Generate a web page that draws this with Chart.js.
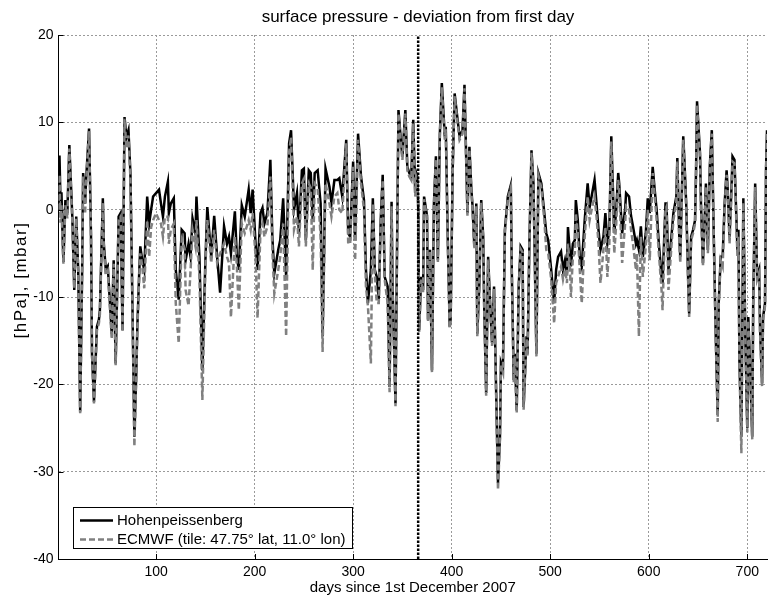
<!DOCTYPE html>
<html lang="en">
<head>
    <meta charset="UTF-8">
    <title>Surface pressure - deviation from first day</title>
    <script src="https://cdn.jsdelivr.net/npm/chart.js"></script>
    <style>
        body {
            margin: 0;
            background: #fff;
        }
        #chart {
            display: block;
        }
    </style>
</head>
<body>
    <canvas id="chart" width="768" height="599"></canvas>

    <script>
        // day index (1 = 1st December 2007)
        const days = [
            1, 2, 3, 4, 5, 6, 8, 10, 12, 15,
            17, 19, 21, 23, 25, 26, 28, 29, 32, 34,
            35, 37, 40, 42, 43, 46, 47, 49, 51, 52,
            55, 57, 59, 61, 62, 64, 66, 68, 70, 72,
            74, 76, 78, 80, 81, 83, 84, 86, 88, 91,
            93, 95, 97, 100, 103, 105, 107, 109, 112, 113,
            115, 118, 120, 123, 126, 129, 130, 133, 135, 137,
            140, 141, 144, 147, 150, 152, 156, 159, 162, 165,
            169, 172, 174, 176, 180, 182, 184, 187, 190, 194,
            196, 198, 201, 203, 206, 208, 210, 213, 216, 218,
            220, 224, 226, 229, 232, 235, 237, 240, 243, 245,
            248, 250, 252, 255, 257, 259, 261, 264, 267, 269,
            272, 276, 278, 281, 284, 286, 289, 293, 295, 297,
            300, 302, 305, 308, 311, 313, 315, 318, 320, 322,
            324, 326, 328, 330, 332, 335, 337, 339, 340, 343,
            344, 346, 349, 350, 353, 355, 357, 359, 361, 363,
            364, 365, 366, 367, 369, 371, 372, 375, 376, 378,
            380, 382, 384, 386, 388, 390, 393, 394, 396, 398,
            399, 401, 403, 406, 408, 411, 413, 415, 416, 418,
            420, 421, 423, 425, 426, 428, 430, 432, 433, 435,
            437, 439, 441, 443, 444, 447, 449, 450, 452, 454,
            457, 460, 461, 463, 464, 466, 468, 470, 472, 473,
            476, 477, 479, 481, 483, 486, 488, 491, 494, 496,
            498, 501, 504, 506, 508, 511, 513, 515, 517, 518,
            520, 521, 523, 525, 526, 528, 530, 532, 535, 538,
            540, 542, 545, 547, 549, 551, 554, 556, 558, 560,
            562, 565, 567, 569, 570, 573, 576, 577, 580, 582,
            584, 587, 588, 590, 592, 594, 597, 599, 601, 604,
            606, 608, 610, 613, 614, 617, 618, 620, 623, 625,
            628, 629, 631, 632, 635, 636, 638, 640, 641, 643,
            645, 647, 648, 649, 652, 653, 655, 657, 658, 660,
            662, 664, 666, 668, 670, 671, 673, 675, 677, 679,
            680, 682, 684, 685, 687, 690, 691, 692, 694, 696,
            698, 700, 701, 703, 705, 706, 708, 710, 712, 713,
            715, 716, 718, 719, 720
        ];

        // station record, hPa relative to day 1
        const hohen = [
            0, 6.2, 1.0, 2.0, -2.5, -6.0, 1.1, -0.4, 7.4, -0.8,
            -9.2, -0.8, -6.9, -23.1, -6.9, 4.2, 0.7, 3.4, 9.3, -3.1,
            -16.5, -22.0, -13.4, -12.6, -11.5, 1.3, -3.9, -6.9, -6.5, -8.4,
            -14.2, -5.8, -17.6, -6.9, -0.8, -0.4, -13.8, 10.6, 8.3, 9.1,
            4.2, -10.7, -26.0, -18.4, -13.4, -6.9, -4.2, -5.8, -6.9, 1.5,
            -1.6, 0.0, 1.5, 1.9, 2.3, 0.7, -0.8, 1.5, 3.2, -0.4,
            0.7, 1.3, -6.9, -10.3, -2.3, -2.7, -5.8, -3.9, -5.4, -1.0,
            -2.7, 1.5, -5.4, -18.4, -6.1, 0.3, -5.4, -0.7, -5.4, -9.5,
            -1.9, -3.9, -3.1, -5.0, -0.2, -5.4, -6.9, 0.5, -0.8, 2.3,
            -0.4, 2.3, -3.9, -6.9, -0.4, 0.2, -1.6, -0.4, 5.7, -3.1,
            -7.3, -4.6, -3.5, 1.3, -7.7, 7.6, 9.1, 0.0, 1.9, -2.7,
            4.5, 4.7, -3.5, 4.5, 4.2, -1.2, 4.2, 4.5, 0.7, -14.5,
            4.7, 2.6, 0.7, 3.4, 3.4, 3.6, 1.5, 8.0, -2.7, -3.1,
            5.5, -3.5, 8.7, 3.8, 1.1, -6.9, -10.7, -6.9, 1.3, -6.9,
            -7.7, -10.3, -1.2, 4.0, -7.7, -8.8, -20.3, 0.9, -8.8, -22.2,
            -10.7, 11.4, 7.2, 6.1, 11.4, 4.9, 4.2, 3.8, 10.3, 1.9,
            4.2, 3.8, 0.7, -13.8, -7.7, -9.2, 1.5, -0.7, -12.6, -4.6,
            -18.4, 0.7, 6.1, -5.8, 8.7, 14.5, 8.4, 9.5, -3.1, -13.4,
            -12.3, 4.5, 13.3, 10.3, 8.4, 9.1, 14.3, 4.5, -0.4, 7.2,
            2.3, 0.7, -4.2, 0.7, -14.2, -8.8, 1.1, -3.1, -11.0, -21.0,
            -5.4, -10.7, -15.3, -8.8, -14.5, -31.3, -26.0, -17.6, -18.4, -2.3,
            1.5, 2.8, -6.9, -19.5, -16.5, -23.0, -8.8, -4.2, -4.6, -22.6,
            -14.5, -16.5, -3.1, 6.8, 3.0, -16.5, 4.2, 3.0, -0.4, -2.7,
            -3.5, -6.9, -10.7, -6.9, -5.4, -4.8, -6.9, -5.8, -7.3, -2.0,
            -5.0, -6.5, -3.9, -3.5, 1.1, -1.2, -5.4, -6.5, -1.2, 3.0,
            0.3, 1.5, 3.4, 0.7, -2.3, -4.6, -3.1, -0.4, -3.9, -2.3,
            8.4, -2.7, 0.0, 4.2, 3.0, -2.7, 0.0, 1.9, 1.5, -0.7,
            -1.9, -3.9, -3.5, -4.6, -1.9, -5.4, -2.7, 1.3, -0.4, 4.9,
            2.3, 0.0, -3.5, -7.7, -8.4, 0.7, 0.7, -6.9, -3.1, -0.4,
            1.5, 5.9, -3.1, -5.4, 8.4, 6.1, 0.7, -8.0, -11.9, -3.1,
            -2.3, -1.2, 4.5, 12.4, 6.5, 0.7, -6.1, -0.4, 3.0, -4.6,
            5.1, 9.1, -3.1, -14.5, -23.5, -10.7, -5.4, -5.4, 0.7, 4.5,
            2.6, -3.1, 2.6, 6.1, 5.7, -4.6, -2.3, -17.2, -26.0, 1.3,
            -14.5, -25.0, -12.3, -18.4, -26.0, -10.7, 3.0, -7.7, -6.9, -13.8,
            -19.9, -12.3, -10.7, 4.5, 9.1
        ];

        // model grid cell, hPa relative to day 1
        const ecmwf = [
            0, 4.0, -1.5, 0.5, -3.5, -6.2, 0.5, -1.0, 7.0, -1.2,
            -9.0, -1.0, -7.0, -23.3, -7.2, 3.8, -0.5, 3.0, 9.0, -3.3,
            -16.5, -22.2, -13.8, -13.0, -12.0, 0.8, -4.5, -7.5, -7.0, -9.0,
            -14.8, -6.2, -17.8, -7.0, -1.2, -0.8, -14.0, 10.4, 7.0, 8.5,
            3.5, -11.0, -27.1, -18.8, -13.8, -7.5, -5.0, -6.5, -9.0, -1.2,
            -5.4, -2.0, -1.2, -0.4, -1.2, -1.6, -3.1, -0.8, -0.8, -3.9,
            -2.3, -1.6, -10.7, -15.3, -3.4, -4.5, -9.2, -11.0, -7.0, -2.3,
            -4.2, -1.2, -7.7, -21.8, -6.9, -1.2, -6.1, -2.3, -6.1, -5.0,
            -3.9, -5.4, -6.1, -12.3, -3.1, -6.5, -11.5, -1.6, -2.7, -1.2,
            -2.3, -0.4, -5.4, -12.4, -2.3, -1.6, -3.1, -1.9, 3.8, -4.6,
            -9.6, -6.9, -5.4, -1.6, -14.5, 6.5, 8.3, -2.3, -0.8, -4.2,
            3.0, 3.5, -4.2, 3.0, 2.5, -6.9, 3.0, 2.5, -3.1, -16.3,
            3.0, 0.7, -0.8, 1.5, 1.9, 0.0, -0.4, 7.6, -3.9, -3.9,
            4.9, -5.8, 8.0, 3.0, 0.0, -8.8, -11.0, -17.6, 0.7, -7.3,
            -10.7, -10.7, -1.6, 3.4, -8.0, -10.7, -20.9, 0.4, -9.2, -22.5,
            -11.0, 11.0, 6.8, 5.7, 11.0, 4.5, 3.8, 3.4, 9.9, 1.5,
            3.8, 3.4, 0.3, -14.0, -8.0, -9.5, 1.2, -1.0, -12.8, -4.8,
            -18.6, 0.3, 5.8, -6.0, 8.4, 14.0, 8.0, 9.2, -3.4, -13.6,
            -12.5, 4.2, 13.0, 9.9, 8.0, 8.7, 13.9, 4.2, -0.7, 6.9,
            2.0, 0.4, -4.5, 0.4, -14.5, -9.0, 0.8, -3.4, -11.2, -21.3,
            -5.7, -11.0, -15.6, -9.1, -14.8, -32.1, -26.3, -17.8, -18.6, -2.6,
            1.2, 2.5, -7.2, -19.8, -16.8, -23.3, -9.1, -4.5, -4.9, -22.9,
            -14.8, -16.8, -3.4, 6.5, 2.7, -16.8, 3.9, 2.5, -1.2, -4.6,
            -5.0, -8.0, -13.0, -8.4, -7.7, -6.5, -8.0, -6.9, -8.4, -3.9,
            -6.5, -10.0, -5.4, -5.0, -0.4, -2.7, -6.9, -10.7, -3.1, 1.5,
            -1.2, 0.0, 1.5, -0.8, -3.9, -8.4, -4.6, -2.0, -7.7, -3.9,
            7.8, -5.0, -1.6, 3.4, 2.3, -6.1, -1.6, 0.4, 0.0, -2.3,
            -3.9, -6.9, -5.0, -14.5, -3.1, -7.7, -4.2, 0.0, -5.8, 4.2,
            1.6, -1.2, -4.6, -9.2, -11.5, 0.0, 0.3, -9.2, -4.2, -1.2,
            0.8, 5.5, -3.9, -6.1, 8.0, 5.7, 0.3, -8.4, -12.3, -3.5,
            -2.7, -1.6, 4.0, 12.0, 6.1, 0.3, -6.5, -0.8, 2.6, -5.0,
            4.7, 8.7, -3.5, -14.8, -24.3, -11.0, -5.8, -6.5, 0.3, 4.0,
            2.2, -3.9, 2.0, 5.5, 5.3, -5.4, -3.1, -17.6, -27.9, 0.8,
            -15.0, -25.5, -12.7, -18.8, -26.3, -11.0, 2.6, -8.0, -7.3, -14.2,
            -20.2, -12.7, -11.0, 4.2, 8.8
        ];

        const xTicks = [100, 200, 300, 400, 500, 600, 700];
        const yTicks = [-40, -30, -20, -10, 0, 10, 20];
        const yearBreak = 366;   // 1st December 2008
        const seriesNames = ['Hohenpeissenberg', 'ECMWF (tile: 47.75\u00b0 lat, 11.0\u00b0 lon)'];

        const FONT = "'Liberation Sans', Arial, Helvetica, sans-serif";
        Chart.defaults.font.family = FONT;
        Chart.defaults.color = '#000';

        function toPoints(values) {
            return days.map((d, i) => ({ x: d, y: values[i] }));
        }

        // title, y label, inward tick marks and the boxed legend
        const decorations = {
            id: 'decorations',
            afterDraw(chart) {
                const ctx = chart.ctx;
                const { left, bottom } = chart.chartArea;
                const xs = chart.scales.x, ys = chart.scales.y;
                ctx.save();

                ctx.strokeStyle = '#000';
                ctx.lineWidth = 1;
                ctx.beginPath();
                xTicks.forEach(v => {
                    const px = Math.round(xs.getPixelForValue(v)) + 0.5;
                    ctx.moveTo(px, bottom);
                    ctx.lineTo(px, bottom - 5);
                });
                yTicks.forEach(v => {
                    const py = Math.round(ys.getPixelForValue(v)) + 0.5;
                    ctx.moveTo(left, py);
                    ctx.lineTo(left + 5, py);
                });
                ctx.stroke();

                ctx.fillStyle = '#000';
                ctx.font = '17px ' + FONT;
                ctx.textAlign = 'center';
                ctx.textBaseline = 'alphabetic';
                ctx.fillText('surface pressure - deviation from first day', 418, 22);

                // rotated unit label
                ctx.save();
                ctx.translate(21, 280);
                ctx.rotate(-Math.PI / 2);
                ctx.font = '17px ' + FONT;
                ctx.textBaseline = 'middle';
                if ('letterSpacing' in ctx) ctx.letterSpacing = '1.5px';
                ctx.fillText('[hPa], [mbar]', 0, 0);
                ctx.restore();

                // legend
                ctx.fillStyle = '#fff';
                ctx.fillRect(73.5, 507.5, 279, 41);
                ctx.strokeStyle = '#000';
                ctx.lineWidth = 1;
                ctx.strokeRect(73.5, 507.5, 279, 41);

                const styles = chart.data.datasets;
                [520.5, 539.5].forEach((y, i) => {
                    const ds = styles[i];
                    ctx.beginPath();
                    ctx.strokeStyle = ds.borderColor;
                    ctx.lineWidth = ds.borderWidth;
                    ctx.setLineDash(ds.borderDash || []);
                    ctx.moveTo(80, y);
                    ctx.lineTo(113, y);
                    ctx.stroke();
                    ctx.setLineDash([]);
                    ctx.fillStyle = '#000';
                    ctx.font = '15px ' + FONT;
                    ctx.textAlign = 'left';
                    ctx.textBaseline = 'middle';
                    ctx.fillText(seriesNames[i], 117, y + 0.5);
                });

                ctx.restore();
            }
        };

        new Chart(document.getElementById('chart'), {
            type: 'line',
            data: {
                datasets: [
                    {
                        label: seriesNames[0],
                        data: toPoints(hohen),
                        borderColor: '#000',
                        borderWidth: 2.5,
                        order: 2
                    },
                    {
                        label: seriesNames[1],
                        data: toPoints(ecmwf),
                        borderColor: '#808080',
                        borderWidth: 2.5,
                        borderDash: [6, 3],
                        order: 1
                    },
                    {
                        label: 'year break',
                        data: [{ x: yearBreak, y: -40 }, { x: yearBreak, y: 20 }],
                        borderColor: '#000',
                        borderWidth: 2.5,
                        borderDash: [2.5, 1.5],
                        order: 0
                    }
                ]
            },
            options: {
                responsive: false,
                animation: false,
                devicePixelRatio: 1,
                elements: {
                    point: { radius: 0 },
                    line: { tension: 0, fill: false }
                },
                layout: { padding: { top: 35, right: 1, left: 0, bottom: 0 } },
                plugins: {
                    legend: { display: false },
                    title: { display: false },
                    tooltip: { enabled: false }
                },
                scales: {
                    x: {
                        type: 'linear',
                        min: 1,
                        max: 720,
                        afterBuildTicks: s => { s.ticks = xTicks.map(v => ({ value: v })); },
                        afterFit: s => { s.height = 40; },
                        grid: { color: '#9a9a9a', lineWidth: 1, drawTicks: false },
                        border: { color: '#000', width: 1, dash: [2, 2] },
                        ticks: { font: { size: 14 }, padding: 5, maxRotation: 0, callback: v => String(v) },
                        title: {
                            display: true,
                            text: 'days since 1st December 2007',
                            font: { size: 15 },
                            padding: { top: 0, bottom: 2 }
                        }
                    },
                    y: {
                        type: 'linear',
                        min: -40,
                        max: 20,
                        afterBuildTicks: s => { s.ticks = yTicks.map(v => ({ value: v })); },
                        afterFit: s => { s.width = 58.5; },
                        grid: { color: '#9a9a9a', lineWidth: 1, drawTicks: false },
                        border: { color: '#000', width: 1, dash: [2, 2] },
                        ticks: { font: { size: 14 }, padding: 5, callback: v => String(v) },
                        title: { display: false }
                    }
                }
            },
            plugins: [decorations]
        });
    </script>
</body>
</html>
